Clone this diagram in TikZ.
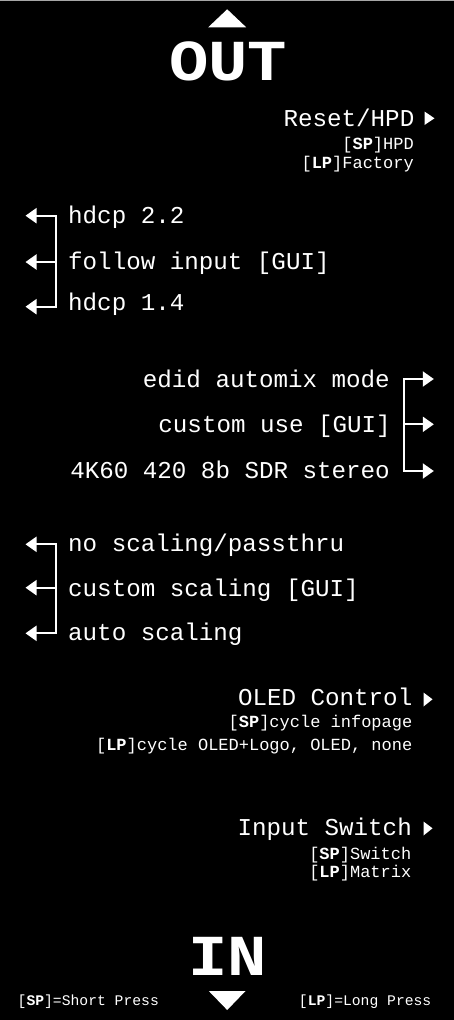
\documentclass[tikz,border=0pt]{standalone}
\usepackage{fontspec}
\setmainfont{Liberation Mono}
\usetikzlibrary{arrows.meta}
\begin{document}
\begin{tikzpicture}[x=1pt,y=-1pt,
  lbl/.style={text=white,inner sep=0pt,font=\fontsize{24.2}{28}\selectfont},
  sub/.style={text=white,inner sep=0pt,font=\fontsize{17}{20}\selectfont},
  leg/.style={text=white,inner sep=0pt,font=\fontsize{14.7}{18}\selectfont},
  big/.style={text=white,inner sep=0pt,font=\fontsize{58}{60}\selectfont\bfseries,xscale=1.13},
  marker/.style={fill=white,draw=none},
  brk/.style={draw=white,line width=2pt,line join=miter},
  arr/.style={brk,-{Triangle[length=11pt,width=15pt]}},
  barr/.style={brk,{Triangle[length=11pt,width=15pt]}-{Triangle[length=11pt,width=15pt]}}
]
\fill[black] (0,0) rectangle (453,1020);
\draw[gray!70,line width=1pt] (0,0.5) -- (453,0.5);

% OUT
\fill[white] (207.7,27.3) -- (245.7,27.3) -- (226.7,9.3) -- cycle;
\node[big,anchor=base] (out) at (227.5,80) {OUT};

% Reset/HPD
\node[lbl,anchor=base east] (reset) at (414,126) {Reset/HPD};
\fill[marker] (424,111.5) -- (434,118.3) -- (424,125) -- cycle;
\node[sub,anchor=base east] (resetsp) at (413.5,149) {[\textbf{SP}]HPD};
\node[sub,anchor=base east] (resetlp) at (413.5,168) {[\textbf{LP}]Factory};

% HDCP group
\node[lbl,anchor=base west] (h22) at (67.5,223.3) {hdcp 2.2};
\node[lbl,anchor=base west] (hfol) at (67.5,269) {follow input [GUI]};
\node[lbl,anchor=base west] (h14) at (67.5,310.7) {hdcp 1.4};
\coordinate (hA) at (55,215.7);
\coordinate (hB) at (55,262);
\coordinate (hC) at (55,306.7);
\coordinate (hAt) at (25,215.7);
\coordinate (hBt) at (25,262);
\coordinate (hCt) at (25,306.7);
\draw[barr] (hAt) -- (hA) -- (hC) -- (hCt);
\draw[arr] (hB) -- (hBt);

% EDID group
\node[lbl,anchor=base east] (e1) at (389.5,387.3) {edid automix mode};
\node[lbl,anchor=base east] (e2) at (390.5,432.7) {custom use [GUI]};
\node[lbl,anchor=base east] (e3) at (389.5,478.3) {4K60 420 8b SDR stereo};
\coordinate (eA) at (403.3,379);
\coordinate (eB) at (403.3,424.3);
\coordinate (eC) at (403.3,471);
\coordinate (eAt) at (433.3,379);
\coordinate (eBt) at (433.3,424.3);
\coordinate (eCt) at (433.3,471);
\draw[barr] (eAt) -- (eA) -- (eC) -- (eCt);
\draw[arr] (eB) -- (eBt);

% Scaling group
\node[lbl,anchor=base west] (s1) at (67.5,551) {no scaling/passthru};
\node[lbl,anchor=base west] (s2) at (67.5,596.7) {custom scaling [GUI]};
\node[lbl,anchor=base west] (s3) at (67.5,640) {auto scaling};
\coordinate (sA) at (55,544.3);
\coordinate (sB) at (55,587.7);
\coordinate (sC) at (55,633.3);
\coordinate (sAt) at (25,544.3);
\coordinate (sBt) at (25,587.7);
\coordinate (sCt) at (25,633.3);
\draw[barr] (sAt) -- (sA) -- (sC) -- (sCt);
\draw[arr] (sB) -- (sBt);

% OLED Control
\node[lbl,anchor=base east] (oled) at (412,705.7) {OLED Control};
\fill[marker] (423,692.5) -- (432,699.3) -- (423,706.5) -- cycle;
\node[sub,anchor=base east] (oledsp) at (412,727.3) {[\textbf{SP}]cycle infopage};
\node[sub,anchor=base east] (oledlp) at (412,750) {[\textbf{LP}]cycle OLED+Logo, OLED, none};

% Input Switch
\node[lbl,anchor=base east] (insw) at (411.5,835.7) {Input Switch};
\fill[marker] (423,821.5) -- (432,828.3) -- (423,835.5) -- cycle;
\node[sub,anchor=base east] (inswsp) at (411,859.3) {[\textbf{SP}]Switch};
\node[sub,anchor=base east] (inswlp) at (411,877.7) {[\textbf{LP}]Matrix};

% IN
\node[big,anchor=base] (in) at (227.2,975) {IN};
\fill[white] (208.3,991) -- (245,991) -- (226.7,1010) -- cycle;

% Legend
\node[leg,anchor=base west] (legsp) at (17,1005) {[\textbf{SP}]=Short Press};
\node[leg,anchor=base east] (leglp) at (431,1005) {[\textbf{LP}]=Long Press};
\end{tikzpicture}
\end{document}
